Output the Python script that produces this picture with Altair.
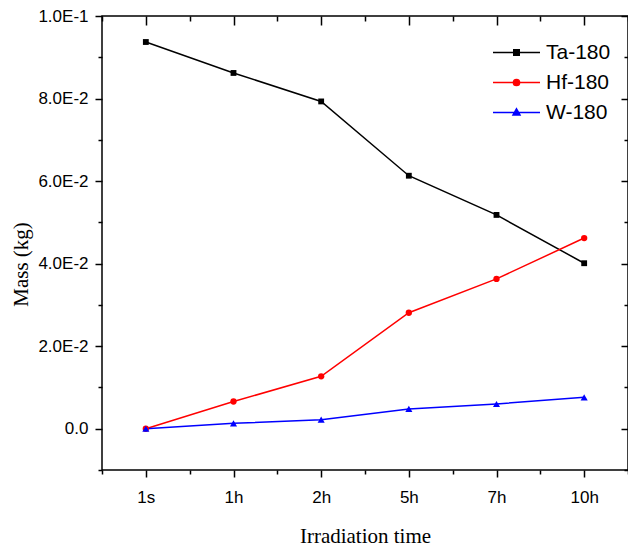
import json
import altair as alt
import pandas as pd

# ---- data ----
times = ["1s", "1h", "2h", "5h", "7h", "10h"]
time_pos = [1, 2, 3, 4, 5, 6]
series_names = ["Ta-180", "Hf-180", "W-180"]
ta_180 = [0.0937, 0.0862, 0.0793, 0.0613, 0.0518, 0.0401]
hf_180 = [0.0, 0.0066, 0.0127, 0.0281, 0.0363, 0.0462]
w_180 = [0.0, 0.0013, 0.0022, 0.0048, 0.0060, 0.0076]
colors = ["#000000", "#ff0000", "#0000ff"]
marker_shapes = ["square", "circle", "triangle-up"]
marker_sizes = [34, 40, 50]

y_ticks = [0.0, 0.02, 0.04, 0.06, 0.08, 0.1]
y_tick_labels = ["0.0", "2.0E-2", "4.0E-2", "6.0E-2", "8.0E-2", "1.0E-1"]
y_minor = [-0.01, 0.01, 0.03, 0.05, 0.07, 0.09]
x_minor = [0.5, 1.5, 2.5, 3.5, 4.5, 5.5, 6.5]

# legend symbols: line segment + marker (custom SVG paths)
legend_paths = [
    "M-4.7,0H4.7M-0.55,-0.55H0.55V0.55H-0.55Z",
    "M-4.7,0H4.7M-0.62,0A0.62,0.62,0,1,0,0.62,0A0.62,0.62,0,1,0,-0.62,0Z",
    "M-4.7,0H4.7M0,-0.75L0.7,0.5H-0.7Z",
]

rows = []
for name, vals in zip(series_names, [ta_180, hf_180, w_180]):
    for p, t, v in zip(time_pos, times, vals):
        rows.append({"pos": p, "time": t, "series": name, "mass": v})
df = pd.DataFrame(rows)

W, H = 526, 454
LABEL_FONT = "Liberation Sans"
TITLE_FONT = "Liberation Serif"

xscale = alt.Scale(domain=[0.5, 6.5], nice=False, zero=False)
yscale = alt.Scale(domain=[-0.01, 0.1], nice=False, zero=False)
color_scale = alt.Scale(domain=series_names, range=colors)


def tick_axis(orient, values, size, offset=0):
    return alt.Axis(orient=orient, values=values, tickSize=size, labels=False,
                    title=None, domain=False, grid=False, ticks=True,
                    tickColor="black", tickWidth=1.5, offset=offset)


x_label_expr = f"{json.dumps(times)}[indexof({json.dumps(time_pos)}, datum.value)]"
y_label_expr = f"{json.dumps(y_tick_labels)}[indexof({json.dumps(y_ticks)}, datum.value)]"

x_major = alt.Axis(orient="bottom", values=time_pos, tickSize=7, tickWidth=1.5,
                   tickColor="black", domain=False, grid=False,
                   labelExpr=x_label_expr, labelFont=LABEL_FONT, labelFontSize=17,
                   labelColor="black", labelBaseline="alphabetic", labelPadding=25.5,
                   labelOverlap=False, labelFlush=False,
                   title="Irradiation time", titleFont=TITLE_FONT, titleFontSize=21,
                   titleFontWeight="normal", titleColor="black",
                   titleBaseline="alphabetic", titleY=72)
y_major = alt.Axis(orient="left", values=y_ticks, tickSize=7, tickWidth=1.5,
                   tickColor="black", domain=False, grid=False,
                   labelExpr=y_label_expr, labelFont=LABEL_FONT, labelFontSize=17,
                   labelColor="black", labelPadding=7, labelOverlap=False,
                   labelFlush=False,
                   title="Mass (kg)", titleFont=TITLE_FONT, titleFontSize=21,
                   titleFontWeight="normal", titleColor="black", titleAngle=270,
                   titleX=-75, titleY=248, titleBaseline="alphabetic",
                   titleAlign="center")

axis_sets = [
    (x_major, y_major),
    (tick_axis("bottom", x_minor, 4), tick_axis("left", y_minor, 4)),
    (tick_axis("bottom", time_pos, 9, offset=-H), tick_axis("left", y_ticks, 7, offset=-W)),
    (tick_axis("bottom", x_minor, 5, offset=-H), tick_axis("left", y_minor, 4, offset=-W)),
]

base = alt.Chart(df)

line_layers = []
point_layers = []
for i, name in enumerate(series_names):
    sub = base.transform_filter(alt.datum.series == name)
    xa, ya = axis_sets[i]
    line_layers.append(
        sub.mark_line(strokeWidth=1.5, color=colors[i]).encode(
            x=alt.X("pos:Q", scale=xscale, axis=xa),
            y=alt.Y("mass:Q", scale=yscale, axis=ya),
        )
    )
    xa2, ya2 = (axis_sets[3] if i == 0 else (None, None))
    point_layers.append(
        sub.mark_point(shape=marker_shapes[i], filled=True, opacity=1,
                       size=marker_sizes[i], strokeWidth=0, color=colors[i])
        .encode(
            x=alt.X("pos:Q", scale=xscale, axis=xa2),
            y=alt.Y("mass:Q", scale=yscale, axis=ya2),
        )
    )

legend_layer = base.transform_filter("datum.mass > 1").mark_point(
    filled=True, opacity=1, strokeWidth=1.5
).encode(
    fill=alt.Fill("series:N", scale=color_scale, title=None,
                  legend=alt.Legend(orient="none", legendX=404, legendY=26,
                                    symbolSize=100, symbolStrokeWidth=1.5,
                                    labelFont=LABEL_FONT, labelFontSize=21,
                                    labelColor="black", labelOffset=19,
                                    rowPadding=8, symbolOpacity=1)),
    stroke=alt.Stroke("series:N", scale=color_scale, title=None),
    shape=alt.Shape("series:N", title=None,
                    scale=alt.Scale(domain=series_names, range=legend_paths)),
)

chart = alt.layer(*line_layers, *point_layers, legend_layer).resolve_axis(
    x="independent", y="independent"
).properties(
    width=W, height=H,
    autosize=alt.AutoSizeParams(type="none"),
    padding={"left": 102, "top": 16, "right": 0, "bottom": 77},
    background="white",
).configure_view(stroke="black", strokeWidth=1.5)

chart.save("out.html", embed_options={"renderer": "svg", "actions": False})
